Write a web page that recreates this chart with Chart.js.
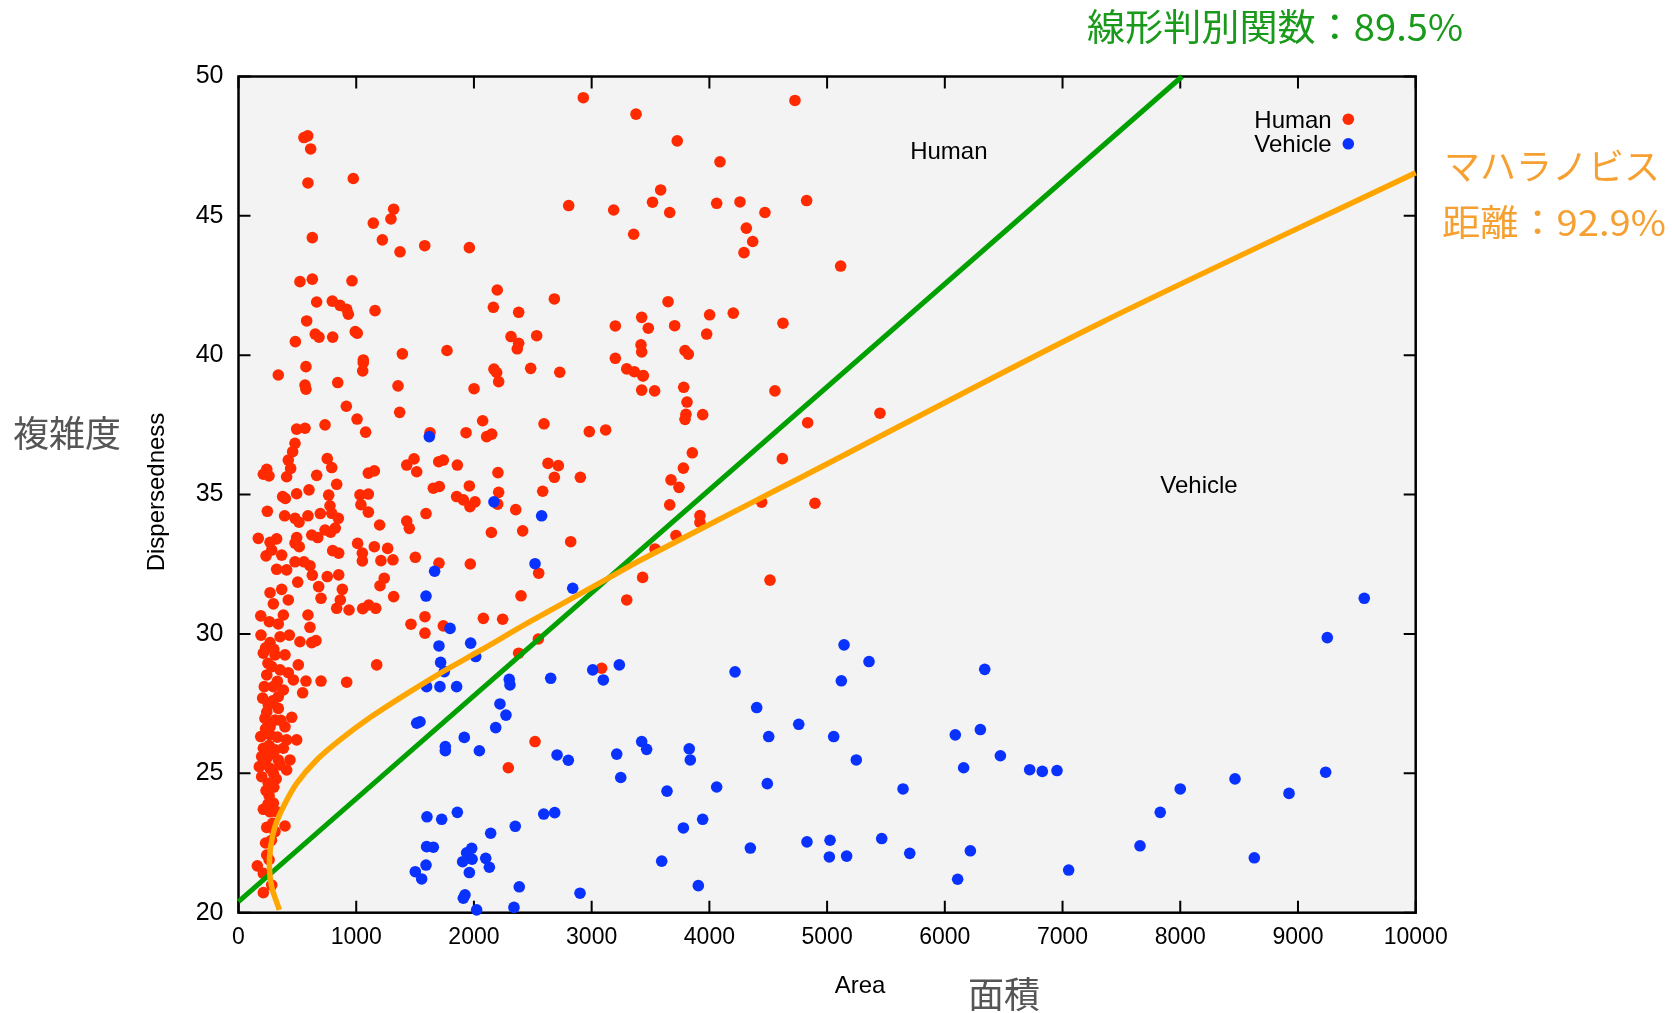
<!DOCTYPE html>
<html>
<head>
<meta charset="utf-8">
<title>Human / Vehicle</title>
<script src="https://cdn.jsdelivr.net/npm/chart.js@4.4.1/dist/chart.umd.min.js"></script>
<style>
  html, body { margin: 0; padding: 0; background: #fff; }
  canvas { display: block; }
</style>
</head>
<body>
<canvas id="chart" width="1672" height="1013"></canvas>
<script>
// Human samples: [area, dispersedness]
const humanPoints = [
  [2929,49.24],[3377,48.65],[556,47.81],[588,47.87],[613,47.40],[590,46.18],[975,46.34],[2805,45.37],[3187,45.21],[3517,45.49],
  [3357,44.34],[1318,45.24],[1295,44.89],[1145,44.74],[1222,44.14],[1372,43.71],[1582,43.93],[1961,43.86],[627,44.22],[522,42.64],
  [627,42.73],[964,42.67],[664,41.91],[797,41.94],[862,41.79],[919,41.65],[933,41.47],[1160,41.60],[579,41.23],[652,40.76],
  [684,40.65],[800,40.65],[992,40.85],[1009,40.79],[483,40.49],[1060,39.83],[1392,40.05],[1771,40.17],[2198,42.34],[2165,41.72],
  [2380,41.54],[2683,42.02],[2315,40.67],[2380,40.43],[2368,40.23],[2533,40.70],[3201,41.05],[3425,41.36],[3481,40.97],[3419,40.37],
  [3425,40.12],[3201,39.89],
  [4727,49.14],[3727,47.69],[4090,46.94],[3586,45.93],[3663,45.12],[4062,45.45],[4260,45.50],[4472,45.12],[4826,45.55],[4314,44.56],
  [4368,44.08],[4294,43.68],[5115,43.20],[3649,41.92],[4002,41.45],[4203,41.51],[4625,41.15],[3705,41.06],[3977,40.76],[3793,40.17],
  [3821,40.04],[3439,39.27],[3425,38.75],[3535,38.72],[3782,38.85],[3810,38.32],[3801,37.88],[3793,37.70],[3943,37.87],[4557,38.72],
  [5449,37.92],[4835,37.58],[3855,36.50],[3779,35.95],[4620,36.29],[3674,35.53],[3742,35.26],
  [3663,34.63],[3920,34.25],[3920,34.00],[3716,33.53],[3538,33.05],[4444,34.73],[4897,34.69],[3433,32.03],[4515,31.93],
  [338,39.29],[573,39.59],[565,38.93],[573,38.78],[843,39.02],[1060,39.73],[1055,39.44],[1355,38.90],[916,38.17],[1007,37.71],
  [1080,37.24],[1369,37.95],[735,37.50],[494,37.35],[565,37.38],[480,36.84],[460,36.54],[423,36.24],[443,35.94],[409,35.64],
  [240,35.91],[211,35.73],[259,35.67],[664,35.69],[754,36.29],[792,35.97],[834,35.37],[599,35.17],[494,35.03],[375,34.93],
  [398,34.86],[766,34.98],[777,34.60],[245,34.40],[392,34.24],[480,34.15],[514,34.01],[590,34.24],[695,34.32],[792,34.33],
  [848,34.15],[822,33.80],[783,33.65],[735,33.73],[673,33.46],[622,33.55],[494,33.46],[480,33.26],[516,33.13],[324,33.41],
  [268,33.29],[168,33.43],[282,33.01],[367,32.83],[234,32.80],[324,32.32],[409,32.30],[480,32.59],[556,32.59],[607,32.45],
  [503,31.86],[627,32.11],[754,32.06],[851,32.12],[800,32.99],[851,32.90],[268,31.48],[367,31.60],[296,31.08],[423,31.22],
  [381,30.68],[189,30.65],[262,30.44],[681,31.70],[882,31.60],[865,31.22],[834,30.92],[701,31.28],[590,30.68],[939,30.86],
  [1055,30.91],[1106,31.04],[1166,30.92],[1012,33.25],[1052,32.90],[1052,32.62],[1154,33.13],[1210,32.63],[1267,33.07],[1312,32.66],
  [1199,33.91],[1238,32.00],[1202,31.73],[1318,31.34],[1032,34.99],[1040,34.64],[1103,35.02],[1103,34.37],[1103,35.77],[1154,35.85],
  [1429,36.06],[1491,36.28],[1514,35.82],[1701,36.18],[1740,36.24],[1859,36.06],[1655,35.23],[1706,35.29],[1961,35.31],[1853,34.93],
  [1910,34.81],[1966,34.57],[2009,34.74],[1593,34.32],[1429,34.05],[1451,33.79],[2204,35.79],[2210,35.08],[2202,34.66],[2355,34.46],
  [2584,35.12],[2629,36.12],[2717,36.04],[2683,35.62],[2904,35.62],[2148,33.64],[2414,33.70],[2822,33.31],[1502,32.75],[1703,32.54],
  [1969,32.51],[2550,32.18],[3298,31.22],[2400,31.37],[2080,30.56],[2244,30.53],[1465,30.35],[1584,30.62],[1584,30.03],[2980,37.26],
  [3119,37.32],[2595,37.54],[2074,37.65],[1933,37.22],[2108,37.08],[2151,37.17],[1627,37.22],[2001,38.80],[2170,39.50],[2193,39.38],
  [2210,39.05],[2482,39.53],[2729,39.39],[3298,39.51],[3362,39.41],[3434,39.26],
  [191,29.96],[268,29.69],[353,29.90],[432,29.96],[522,29.72],[622,29.69],[658,29.76],[338,30.36],[607,30.24],[1174,28.89],
  [919,28.27],[701,28.31],[573,28.31],[545,27.89],[310,29.25],[395,29.25],[282,28.83],[508,28.89],[423,28.61],[466,28.35],
  [219,28.11],[296,28.11],[381,27.99],[253,27.45],[338,27.33],[225,26.97],[310,26.91],[395,26.67],[452,27.01],[189,26.32],
  [268,26.38],[494,26.20],[409,26.20],[211,25.90],[310,25.84],[381,25.90],[240,25.54],[338,25.48],[437,25.48],[177,25.24],
  [268,25.18],[353,25.30],[197,24.88],[296,25.00],[234,24.38],[211,23.71],[296,23.93],[324,23.62],[240,23.06],[395,23.11],
  [310,22.91],[240,22.07],[160,21.68],[211,21.41],[282,20.99],[211,20.72],
  [211,29.31],[353,28.71],[240,28.53],[338,27.75],[268,26.67],[197,25.60],[409,25.12],[253,24.64],[268,23.62],[290,23.21],
  [230,29.50],[300,29.45],[250,28.95],[330,28.30],[205,27.70],[290,27.60],[240,27.20],[360,26.90],[230,26.60],[330,26.30],
  [260,26.00],[290,25.70],[220,25.35],[320,24.80],[260,24.20],[300,24.50],[250,23.90],[280,22.60],[230,22.50],[260,21.90],
  [1740,30.29],[2547,29.82],[2380,29.31],[3085,28.77],[2519,26.14],[2292,25.20]
];

// Vehicle samples: [area, dispersedness]
const vehiclePoints = [
  [5144,29.61],[5356,29.01],[5121,28.32],[4218,28.64],[6339,28.73],[4402,27.36],[4759,26.76],[4504,26.32],[5056,26.32],[6089,26.38],
  [6302,26.57],[3829,25.88],[3838,25.48],[3425,26.14],[3467,25.86],[5248,25.48],[6472,25.63],[6160,25.20],[6721,25.13],[6828,25.07],
  [6953,25.10],[3640,24.36],[4062,24.51],[4492,24.63],[5645,24.44],[3943,23.35],[3779,23.04],[4348,22.32],[4829,22.54],[5025,22.60],
  [5019,22.00],[5166,22.03],[5464,22.66],[5702,22.13],[6217,22.22],[6109,21.20],[7052,21.53],[3595,21.85],[3906,20.97],
  [1797,30.20],[1703,29.57],[1972,29.67],[2015,29.19],[1717,28.98],[1748,28.65],[1598,28.11],[1711,28.11],[1853,28.11],[2300,28.37],
  [2306,28.17],[2652,28.41],[3009,28.71],[3099,28.35],[3235,28.89],[2221,27.49],[2272,27.09],[2185,26.64],[1514,26.80],[1542,26.85],
  [1918,26.29],[1757,25.96],[1757,25.81],[2046,25.81],[2706,25.66],[2802,25.47],[3213,25.69],[3247,24.85],[1601,23.44],[1726,23.35],
  [1859,23.60],[2593,23.54],[2686,23.59],[2142,22.85],[2351,23.10],[1598,22.37],[1655,22.35],[1981,22.31],[1938,22.15],[1904,21.83],
  [1984,21.92],[2100,21.95],[2131,21.63],[1593,21.71],[1502,21.47],[1556,21.21],[1961,21.44],[2385,20.93],[2901,20.70],[1924,20.64],
  [1910,20.52],[2023,20.10],[2340,20.19],
  [1621,37.08],[2170,34.74],[2575,34.24],[2519,32.52],[2839,31.64],[1666,32.25],[1593,31.36],
  [9563,31.28],[9249,29.87],[9235,25.04],[8465,24.80],[8924,24.28],[8000,24.44],[7830,23.60],[7658,22.40],[8629,21.97]
];

// linear discriminant boundary (two ends)
const ldaArea = [0, 8015];
const ldaDisp = [20.4, 50];

// Mahalanobis boundary
const mahalArea = [347, 282, 262, 273, 310, 381, 494, 664, 862, 1117, 1400, 1712, 2051, 2476, 3181, 3389, 4373, 4798, 7318, 10000];
const mahalDisp = [20.1, 20.93, 21.65, 22.37, 23.09, 23.8, 24.64, 25.48, 26.2, 27.0, 27.78, 28.59, 29.4, 30.44, 32.09, 32.59, 34.74, 35.66, 41.15, 46.55];

const xTicks = { min: 0, max: 10000, step: 1000 };
const yTicks = { min: 20, max: 50, step: 5 };

const LATIN = '"Liberation Sans", Arial, Helvetica, sans-serif';
const CJK = '"Noto Sans CJK JP", "Noto Sans CJK SC", sans-serif';

function toXY(list) {
    return list.map(p => ({ x: p[0], y: p[1] }));
}
function zipXY(xs, ys) {
    return xs.map((x, i) => ({ x: x, y: ys[i] }));
}

// draw left-aligned text squeezed/stretched to a given width
function fitText(c, text, x, y, width) {
    const w = c.measureText(text).width;
    c.save();
    c.translate(x, y);
    c.scale(width / w, 1);
    c.fillText(text, 0, 0);
    c.restore();
}

// plot background, border and gnuplot-like inward ticks
const framePlugin = {
    id: 'frame',
    beforeDraw(chart) {
        const a = chart.chartArea;
        const c = chart.ctx;
        c.save();
        c.fillStyle = '#ffffff';
        c.fillRect(0, 0, chart.width, chart.height);
        c.fillStyle = '#f3f3f3';
        c.fillRect(a.left, a.top, a.right - a.left, a.bottom - a.top);
        c.restore();
    },
    beforeDatasetsDraw(chart) {
        const a = chart.chartArea;
        const c = chart.ctx;
        const xs = chart.scales.x, ys = chart.scales.y;
        const len = 12;
        c.save();
        c.strokeStyle = '#000';
        c.lineWidth = 2;
        c.beginPath();
        xs.ticks.forEach(t => {
            const px = xs.getPixelForValue(t.value);
            c.moveTo(px, a.bottom); c.lineTo(px, a.bottom - len);
            c.moveTo(px, a.top); c.lineTo(px, a.top + len);
        });
        ys.ticks.forEach(t => {
            const py = ys.getPixelForValue(t.value);
            c.moveTo(a.left, py); c.lineTo(a.left + len, py);
            c.moveTo(a.right, py); c.lineTo(a.right - len, py);
        });
        c.stroke();
        c.lineWidth = 2.5;
        c.strokeRect(a.left, a.top, a.right - a.left, a.bottom - a.top);
        c.restore();
    }
};

// titles, notes, in-plot labels and the key
const textPlugin = {
    id: 'texts',
    afterDraw(chart) {
        const c = chart.ctx;
        const xs = chart.scales.x, ys = chart.scales.y;
        c.save();
        c.textBaseline = 'middle';

        c.fillStyle = '#000';
        c.font = '24px ' + LATIN;
        c.textAlign = 'center';
        c.fillText('Area', 860, 986);

        c.save();
        c.translate(157, 492);
        c.rotate(-Math.PI / 2);
        c.fillText('Dispersedness', 0, 0);
        c.restore();

        c.font = '36px ' + CJK;
        c.fillStyle = '#555555';
        c.textAlign = 'left';
        c.fillText('複雑度', 13, 433);
        c.fillText('面積', 968, 994);

        c.font = '37px ' + CJK;
        c.fillStyle = '#1a9a1a';
        fitText(c, '線形判別関数：89.5%', 1087, 27, 376);

        c.font = '36px ' + CJK;
        c.fillStyle = '#f7a032';
        c.fillText('マハラノビス', 1444, 166);
        fitText(c, '距離：92.9%', 1442, 222, 224);

        // region labels
        c.fillStyle = '#000';
        c.font = '24px ' + LATIN;
        c.textAlign = 'center';
        c.textBaseline = 'alphabetic';
        c.fillText('Human', xs.getPixelForValue(6034), ys.getPixelForValue(47.03));
        c.fillText('Vehicle', xs.getPixelForValue(8159), ys.getPixelForValue(35.05));

        // key: text then marker, like gnuplot
        const keys = chart.data.datasets.filter(d => d.key);
        keys.forEach((d, i) => {
            const ty = 127.7 + i * 24.6;
            c.fillStyle = '#000';
            c.textAlign = 'right';
            c.fillText(d.label, 1331.7, ty);
            c.fillStyle = d.backgroundColor;
            c.beginPath();
            c.arc(1348.3, ty - 8.5, 5.8, 0, Math.PI * 2);
            c.fill();
        });
        c.restore();
    }
};

const ctx = document.getElementById('chart').getContext('2d');
const chart = new Chart(ctx, {
    type: 'scatter',
    data: {
        datasets: [
            {
                label: 'Human',
                key: true,
                data: toXY(humanPoints),
                backgroundColor: '#ff2a00',
                borderWidth: 0,
                pointRadius: 5.8,
                clip: false,
                order: 3
            },
            {
                label: 'Vehicle',
                key: true,
                data: toXY(vehiclePoints),
                backgroundColor: '#0a32ff',
                borderWidth: 0,
                pointRadius: 5.8,
                clip: false,
                order: 2
            },
            {
                label: 'LDA',
                data: zipXY(ldaArea, ldaDisp),
                showLine: true,
                borderColor: '#00a000',
                borderWidth: 5,
                borderCapStyle: 'butt',
                pointRadius: 0,
                clip: false,
                order: 1
            },
            {
                label: 'Mahalanobis',
                data: zipXY(mahalArea, mahalDisp),
                showLine: true,
                borderColor: '#ffa500',
                borderWidth: 5.5,
                borderCapStyle: 'butt',
                pointRadius: 0,
                tension: 0.3,
                clip: false,
                order: 0
            }
        ]
    },
    options: {
        responsive: false,
        animation: false,
        events: [],
        layout: { padding: { top: 76.5, right: 256.3, left: 0, bottom: 0 } },
        plugins: {
            legend: { display: false },
            tooltip: { enabled: false }
        },
        scales: {
            x: {
                type: 'linear',
                min: xTicks.min,
                max: xTicks.max,
                ticks: {
                    stepSize: xTicks.step,
                    color: '#000',
                    font: { family: LATIN, size: 23 },
                    padding: 11,
                    maxRotation: 0,
                    autoSkip: false,
                    callback: v => String(v)
                },
                grid: { display: false, drawTicks: false },
                border: { display: false },
                afterFit: s => { s.height = 100.3; }
            },
            y: {
                type: 'linear',
                min: yTicks.min,
                max: yTicks.max,
                ticks: {
                    stepSize: yTicks.step,
                    color: '#000',
                    font: { family: LATIN, size: 25 },
                    padding: 15,
                    callback: v => String(v)
                },
                grid: { display: false, drawTicks: false },
                border: { display: false },
                afterFit: s => { s.width = 238.5; }
            }
        }
    },
    plugins: [framePlugin, textPlugin]
});
</script>
</body>
</html>
